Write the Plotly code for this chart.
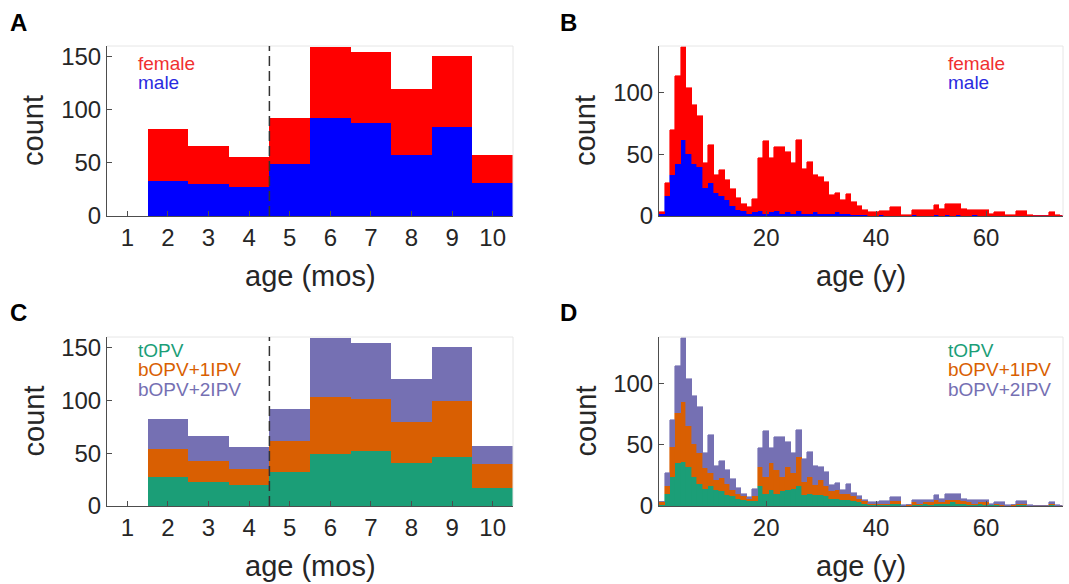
import plotly.graph_objects as go

# ---------------- data ----------------
months = list(range(1, 11))
month_male = [0, 33, 30, 27, 49, 92, 88, 57, 84, 31]
month_female = [0, 49, 36, 29, 43, 67, 66, 63, 67, 26]
month_topv = [0, 27, 23, 20, 32, 49, 52, 41, 46, 17]
month_bopv1 = [0, 27, 20, 15, 30, 54, 49, 39, 53, 23]
month_bopv2 = [0, 28, 23, 21, 30, 56, 53, 40, 52, 17]

ages = list(range(1, 75))
age_male = [2, 16, 33, 42, 62, 50, 42, 40, 23, 27, 19, 16, 13, 8, 5, 4, 2, 3, 4, 2,
            3, 4, 2, 3, 2, 4, 2, 2, 3, 2, 2, 2, 3, 2, 2, 1, 1, 1, 0, 0,
            1, 0, 0, 0, 0, 0, 1, 0, 0, 0, 1, 0, 1, 0, 1, 0, 0, 1, 0, 0,
            0, 0, 0, 0, 0, 0, 0, 0, 0, 0, 0, 0, 0, 0]
age_female = [1, 11, 37, 72, 75, 54, 48, 41, 20, 31, 14, 21, 16, 14, 10, 6, 5, 11, 43, 59,
              44, 52, 54, 49, 41, 58, 36, 42, 30, 30, 26, 15, 16, 11, 16, 10, 7, 4, 3, 3,
              3, 4, 7, 7, 1, 1, 4, 5, 5, 5, 8, 6, 9, 10, 9, 6, 5, 4, 5, 5,
              2, 3, 3, 1, 1, 4, 4, 1, 0, 0, 0, 3, 1, 0]
age_topv = [1, 10, 24, 35, 36, 32, 24, 18, 14, 16, 13, 12, 9, 8, 6, 5, 4, 4, 16, 10,
            13, 10, 12, 13, 14, 16, 9, 10, 9, 9, 8, 6, 6, 5, 5, 4, 3, 2, 1, 1,
            1, 1, 2, 2, 0, 0, 1, 1, 2, 1, 2, 2, 2, 3, 2, 2, 1, 1, 2, 1,
            1, 1, 0, 0, 0, 1, 1, 0, 0, 0, 0, 1, 0, 0]
age_bopv1 = [2, 6, 24, 41, 49, 33, 27, 25, 17, 11, 8, 11, 9, 5, 4, 3, 2, 4, 16, 14,
             22, 19, 12, 19, 13, 24, 11, 14, 8, 12, 8, 6, 7, 5, 5, 4, 3, 2, 1, 1,
             1, 1, 2, 2, 0, 1, 2, 1, 1, 2, 3, 1, 3, 2, 3, 2, 2, 1, 1, 2,
             0, 1, 1, 0, 1, 1, 1, 0, 0, 0, 0, 1, 0, 0]
age_bopv2 = [0, 11, 22, 38, 52, 39, 39, 38, 12, 31, 12, 14, 11, 9, 5, 2, 1, 6, 15, 37,
             12, 27, 32, 20, 16, 22, 18, 20, 16, 11, 12, 5, 6, 3, 8, 3, 2, 1, 1, 1,
             2, 2, 3, 3, 1, 0, 2, 3, 2, 2, 4, 3, 5, 5, 5, 2, 2, 3, 2, 2,
             1, 1, 2, 1, 0, 2, 2, 1, 0, 0, 0, 1, 1, 0]

RED, BLUE = "#ff0000", "#0000ff"
GREEN, ORANGE, PURPLE = "#1b9e77", "#d95f02", "#7570b3"
FONT = "Liberation Sans, Arial, sans-serif"
TXT = "#262626"

W, H = 1069, 584


def px(x):
    return x / W


def py(y):
    return 1 - y / H


# plot-area pixel boxes (left, right, top, bottom)
boxes = {
    "A": (107, 513, 46, 216),
    "B": (659, 1063, 46, 216),
    "C": (107, 513, 337, 506),
    "D": (659, 1063, 337, 506),
}

fig = go.Figure()


def add_bar(x, y, color, ax, seam=0.0):
    fig.add_trace(go.Bar(x=x, y=y, width=1.0,
                         marker=dict(color=color, line=dict(width=seam, color=color)),
                         xaxis="x" + ax, yaxis="y" + ax, showlegend=False, hoverinfo="x+y"))


# panel A (axis 1)
add_bar(months, month_male, BLUE, "")
add_bar(months, month_female, RED, "")
# panel B (axis 2)
add_bar(ages, age_male, BLUE, "2", 0.6)
add_bar(ages, age_female, RED, "2", 0.6)
# panel C (axis 3)
add_bar(months, month_topv, GREEN, "3")
add_bar(months, month_bopv1, ORANGE, "3")
add_bar(months, month_bopv2, PURPLE, "3")
# panel D (axis 4)
add_bar(ages, age_topv, GREEN, "4", 0.6)
add_bar(ages, age_bopv1, ORANGE, "4", 0.6)
add_bar(ages, age_bopv2, PURPLE, "4", 0.6)

axcommon = dict(showline=True, linecolor="#4d4d4d", linewidth=1, ticks="inside", ticklen=5,
                tickcolor="#4d4d4d", showgrid=False, zeroline=False, automargin=False,
                tickfont=dict(family=FONT, size=24, color=TXT), fixedrange=True)

layout = dict(width=W, height=H, autosize=False,
              margin=dict(l=0, r=0, t=0, b=0, pad=0, autoexpand=False),
              paper_bgcolor="white", plot_bgcolor="white",
              barmode="stack", bargap=0, showlegend=False)

panel_axes = {"A": ("", "x", "y"), "B": ("2", "x2", "y2"), "C": ("3", "x3", "y3"), "D": ("4", "x4", "y4")}
for name, (suf, xa, ya) in panel_axes.items():
    l, r, t, b = boxes[name]
    xd = [px(l), px(r)]
    yd = [py(b), py(t)]
    if name in ("A", "C"):
        xax = dict(axcommon, domain=xd, range=[0.5, 10.5], tickvals=months, anchor=ya)
        yax = dict(axcommon, domain=yd, range=[0, 160], tickvals=[0, 50, 100, 150], anchor=xa)
    else:
        xax = dict(axcommon, domain=xd, range=[0.5, 74], tickvals=[20, 40, 60], anchor=ya)
        yax = dict(axcommon, domain=yd, range=[0, 138], tickvals=[0, 50, 100], anchor=xa)
    layout["xaxis" + suf] = xax
    layout["yaxis" + suf] = yax

shapes = []
annotations = []
for name, (suf, xa, ya) in panel_axes.items():
    l, r, t, b = boxes[name]
    shapes.append(dict(type="line", xref="paper", yref="paper", x0=px(l), x1=px(r), y0=py(t), y1=py(t),
                       line=dict(color="#e6e6e6", width=1)))
    shapes.append(dict(type="line", xref="paper", yref="paper", x0=px(r), x1=px(r), y0=py(t), y1=py(b),
                       line=dict(color="#e6e6e6", width=1)))
    annotations.append(dict(text="count", xref="paper", yref="paper", x=px(l - 74), y=py((t + b) / 2),
                            textangle=-90, showarrow=False, xanchor="center", yanchor="middle",
                            font=dict(family=FONT, size=29, color=TXT)))
    xt = "age (mos)" if name in ("A", "C") else "age (y)"
    annotations.append(dict(text=xt, xref="paper", yref="paper", x=px((l + r) / 2), y=py(b + 60),
                            showarrow=False, xanchor="center", yanchor="middle",
                            font=dict(family=FONT, size=29, color=TXT)))

for suf in ("", "3"):
    shapes.append(dict(type="line", xref="x" + suf, yref="y" + suf + " domain", x0=4.5, x1=4.5, y0=0, y1=1,
                       line=dict(color="#333333", width=1.5, dash="10px,5px")))

for letter, (x, y) in {"A": (18, 22), "B": (568, 22), "C": (18, 312), "D": (568, 312)}.items():
    annotations.append(dict(text="<b>" + letter + "</b>", xref="paper", yref="paper", x=px(x), y=py(y),
                            showarrow=False, xanchor="center", yanchor="middle",
                            font=dict(family=FONT, size=24, color="black")))


def legend_text(items, x, y0, dy=19.5):
    for i, (txt, col) in enumerate(items):
        annotations.append(dict(text=txt, xref="paper", yref="paper", x=px(x), y=py(y0 + i * dy),
                                showarrow=False, xanchor="left", yanchor="middle",
                                font=dict(family=FONT, size=19, color=col)))


legend_text([("female", "#f03030"), ("male", "#2a2ae0")], 136, 63)
legend_text([("female", "#f03030"), ("male", "#2a2ae0")], 946, 63)
legend_text([("tOPV", GREEN), ("bOPV+1IPV", ORANGE), ("bOPV+2IPV", PURPLE)], 136, 350)
legend_text([("tOPV", GREEN), ("bOPV+1IPV", ORANGE), ("bOPV+2IPV", PURPLE)], 946, 350)

layout["shapes"] = shapes
layout["annotations"] = annotations
fig.update_layout(**layout)
fig.write_html("out.html", config={"displayModeBar": False},
               post_script="document.body.style.margin='0';document.body.style.overflow='hidden';")
